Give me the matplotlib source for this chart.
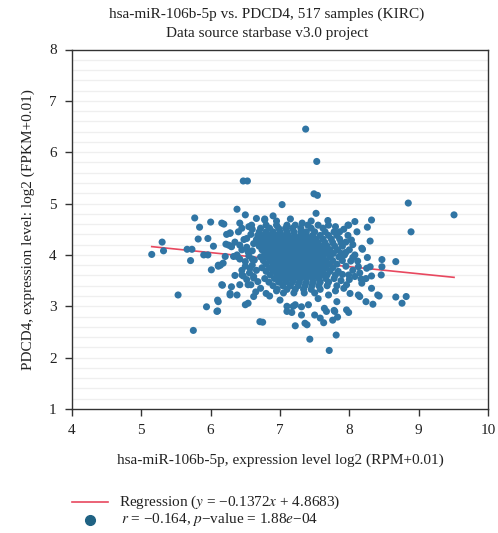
import matplotlib
matplotlib.use("Agg")
import matplotlib.pyplot as plt
import numpy as np

plt.rcParams['font.family'] = ['Liberation Serif', 'DejaVu Serif']
plt.rcParams['mathtext.fontset'] = 'stix'

# Regression coefficients (from the legend)
slope = -0.1372
intercept = 4.8683

# Outlying / individually readable points (x = miRNA log2 RPM, y = PDCD4 log2 FPKM)
outlier_x = [7.37, 7.53, 7.49, 7.54, 6.47, 6.53, 7.03, 7.52, 7.69, 6.90, 6.78, 8.08, 7.98,
             8.32, 8.26, 8.85, 9.51, 8.89, 8.30, 8.19, 8.26, 8.47, 8.67, 8.47, 8.46, 8.32,
             8.24, 8.17, 8.32, 8.41, 8.43, 8.67, 8.82, 8.76, 8.24, 8.34, 8.15, 8.25,
             5.15, 5.30, 5.32, 5.66, 5.73, 5.71, 5.82, 5.84, 5.77, 5.96, 6.00, 5.90, 5.96,
             6.01, 6.11, 6.14, 6.19, 6.04, 6.22, 6.28, 6.23, 6.38, 6.50, 6.30, 6.33, 6.38,
             6.47, 5.53, 5.75, 5.94, 6.10, 6.10, 6.17, 6.28, 6.71, 6.75, 7.22, 7.36, 7.39,
             7.43, 7.71, 7.81, 7.58, 7.63, 7.76, 7.83, 7.96, 7.99, 7.10, 7.17, 7.19, 7.64, 7.78]
outlier_y = [6.45, 5.82, 5.19, 5.16, 5.44, 5.44, 4.98, 4.81, 4.67, 4.76, 4.70, 4.65, 4.58,
             4.68, 4.54, 5.01, 4.78, 4.45, 4.27, 4.11, 3.95, 3.91, 3.87, 3.77, 3.61, 3.59,
             3.54, 3.53, 3.35, 3.22, 3.20, 3.18, 3.19, 3.06, 3.09, 3.04, 3.19, 3.74,
             4.01, 4.25, 4.08, 4.11, 4.11, 3.89, 4.31, 4.54, 4.72, 4.32, 4.64, 4.00, 4.00,
             3.71, 3.78, 3.80, 4.60, 4.17, 4.21, 4.43, 4.40, 4.89, 4.78, 4.17, 3.97, 3.97,
             3.59, 3.22, 2.53, 2.99, 3.12, 2.91, 3.41, 3.22, 2.70, 2.69, 2.62, 2.67, 2.64,
             2.36, 2.14, 2.44, 2.77, 2.68, 2.73, 2.79, 2.93, 2.88, 3.00, 2.88, 3.00, 2.96, 2.92]

# Sparse ring around the dense core
ring_x = [6.16, 6.28, 6.26, 6.21, 6.11, 6.18, 6.30, 6.42, 6.38, 6.54, 6.50, 6.57, 6.45,
          6.16, 6.30, 6.42, 6.54, 6.28, 6.38, 6.54, 6.50, 6.62, 6.11, 6.09, 6.42, 6.45,
          6.52, 6.59, 6.66, 7.99, 8.11, 8.03, 8.18, 8.13, 8.30, 7.99, 8.08, 8.18, 7.96,
          8.01, 8.13, 7.82, 7.79, 7.67, 7.10, 7.22, 7.31, 7.41, 7.50, 7.31, 6.78, 6.95,
          7.15, 7.32, 7.45, 6.85, 7.00, 7.55, 7.70, 7.80, 6.95, 6.62, 6.60, 8.05, 7.95]
ring_y = [4.62, 4.42, 4.19, 3.97, 3.80, 3.84, 4.16, 4.19, 4.00, 4.06, 3.87, 3.74, 3.61,
          3.42, 3.38, 3.42, 3.42, 3.25, 3.22, 3.06, 3.03, 3.19, 3.09, 2.90, 4.62, 4.52,
          4.32, 4.58, 4.71, 4.58, 4.45, 4.29, 4.13, 3.77, 3.77, 3.61, 3.58, 3.45, 3.42,
          3.25, 3.22, 3.09, 2.90, 2.90, 2.90, 3.03, 2.99, 3.03, 2.83, 2.83, 4.68, 4.66,
          4.70, 4.62, 4.66, 3.20, 3.12, 3.15, 3.22, 3.30, 3.30, 3.55, 3.92, 3.95, 4.05]

# Intermediate band between ring and core
band_x = [6.40, 6.48, 6.58, 6.62, 6.52, 6.60, 6.45, 6.55, 6.63, 6.42, 6.50, 6.60, 6.66,
          6.56, 6.45, 6.62, 6.52, 6.68, 6.58, 6.72, 6.65, 6.80, 6.60, 6.55, 6.35, 6.35,
          6.66, 7.92, 7.98, 8.05, 7.95, 8.00, 7.93, 8.08, 8.02, 7.95, 8.05, 7.90, 8.00,
          7.88, 7.92, 7.82, 8.12, 8.15, 7.86, 7.80, 7.70]
band_y = [4.45, 4.30, 4.40, 4.22, 4.15, 4.08, 4.10, 3.98, 3.90, 3.92, 3.78, 3.80, 3.70,
          3.65, 3.70, 3.58, 3.52, 3.48, 3.42, 3.35, 3.28, 3.25, 4.50, 4.55, 4.25, 3.60,
          4.30, 4.50, 4.38, 4.20, 4.25, 4.10, 4.00, 4.00, 3.88, 3.78, 3.70, 3.62, 3.52,
          3.50, 3.35, 3.40, 3.88, 3.65, 4.45, 4.55, 4.58]

# Dense central cluster, estimated row by row (y level -> x positions)
cluster_rows = {
    4.58: [6.80, 6.95, 7.10, 7.22, 7.40, 7.55],
    4.52: [6.72, 6.85, 6.98, 7.08, 7.18, 7.30, 7.45, 7.62],
    4.45: [6.70, 6.80, 6.90, 7.00, 7.10, 7.20, 7.30, 7.38, 7.50, 7.65, 7.78],
    4.38: [6.68, 6.76, 6.85, 6.94, 7.03, 7.12, 7.21, 7.30, 7.38, 7.47, 7.58, 7.70, 7.82],
    4.31: [6.72, 6.81, 6.90, 6.99, 7.08, 7.17, 7.26, 7.35, 7.43, 7.52, 7.62, 7.74, 7.86],
    4.24: [6.66, 6.75, 6.84, 6.93, 7.02, 7.11, 7.20, 7.29, 7.37, 7.46, 7.55, 7.65, 7.76, 7.88],
    4.17: [6.70, 6.79, 6.88, 6.97, 7.06, 7.15, 7.24, 7.33, 7.41, 7.50, 7.59, 7.68, 7.79, 7.90],
    4.10: [6.74, 6.83, 6.92, 7.01, 7.10, 7.19, 7.28, 7.37, 7.45, 7.54, 7.63, 7.72, 7.83],
    4.03: [6.78, 6.87, 6.96, 7.05, 7.14, 7.23, 7.32, 7.41, 7.49, 7.58, 7.67, 7.77, 7.88],
    3.96: [6.72, 6.82, 6.91, 7.00, 7.09, 7.18, 7.27, 7.36, 7.44, 7.53, 7.62, 7.72, 7.85],
    3.89: [6.76, 6.86, 6.95, 7.04, 7.13, 7.22, 7.31, 7.40, 7.48, 7.57, 7.66, 7.76, 7.90],
    3.82: [6.80, 6.90, 6.99, 7.08, 7.17, 7.26, 7.35, 7.44, 7.52, 7.61, 7.71, 7.82],
    3.75: [6.74, 6.85, 6.94, 7.03, 7.12, 7.21, 7.30, 7.39, 7.48, 7.57, 7.66, 7.76],
    3.68: [6.80, 6.90, 6.99, 7.08, 7.17, 7.26, 7.35, 7.44, 7.53, 7.62, 7.72, 7.84],
    3.61: [6.86, 6.96, 7.05, 7.14, 7.23, 7.32, 7.41, 7.50, 7.59, 7.68, 7.80],
    3.54: [6.78, 6.92, 7.02, 7.11, 7.20, 7.29, 7.38, 7.47, 7.56, 7.66, 7.78],
    3.47: [6.84, 6.98, 7.08, 7.18, 7.28, 7.38, 7.48, 7.58, 7.70],
    3.40: [6.90, 7.04, 7.15, 7.26, 7.36, 7.46, 7.56, 7.68],
    3.33: [6.96, 7.10, 7.22, 7.34, 7.45, 7.58],
    3.26: [7.05, 7.20, 7.35, 7.50],
}

title_lines = ["hsa-miR-106b-5p vs. PDCD4, 517 samples (KIRC)", "Data source starbase v3.0 project"]
x_label = "hsa-miR-106b-5p, expression level log2 (RPM+0.01)"
y_label = "PDCD4, expression level: log2 (FPKM+0.01)"
reg_label = r"Regression ($y$ = −0.1372$x$ + 4.8683)"
stat_label = r"$r$ = −0.164, $p$−value = 1.88$e$−04"

xs = list(outlier_x) + list(ring_x) + list(band_x)
ys = list(outlier_y) + list(ring_y) + list(band_y)
for yv, row in cluster_rows.items():
    xs.extend(row)
    ys.extend([yv] * len(row))
xs = np.array(xs)
ys = np.array(ys)

point_color = '#3075a4'
line_color = '#e8485f'
axis_color = '#333333'

fig = plt.figure(figsize=(4.98, 5.33), dpi=100)
ax = fig.add_axes([72 / 498, 1 - 409 / 533, (488 - 72) / 498, (409 - 49.5) / 533])

# faint horizontal grid every 0.2
for gy in np.arange(1.2, 8.0, 0.2):
    ax.axhline(gy, color='#efefef', lw=0.9, zorder=0)

lx = np.array([xs.min(), xs.max()])
ax.plot(lx, slope * lx + intercept, color=line_color, lw=1.2, zorder=1)
ax.scatter(xs, ys, s=26, color=point_color, edgecolors='none', zorder=2)

ax.set_xlim(4, 10)
ax.set_ylim(1, 8)
ax.set_xticks(range(4, 11))
ax.set_yticks(range(1, 9))
for sp in ax.spines.values():
    sp.set_color(axis_color)
    sp.set_linewidth(1.0)
ax.tick_params(axis='both', direction='out', length=5, width=1, color=axis_color,
               labelsize=11, labelcolor='#222222', pad=6)
ax.set_xlabel(x_label, fontsize=11, color='#222222', labelpad=12)
ax.set_ylabel(y_label, fontsize=11, color='#222222', labelpad=10)

fig.text(267 / 498, 1 - 14 / 533, title_lines[0], ha='center', va='center', fontsize=11, color='#222222')
fig.text(267 / 498, 1 - 33 / 533, title_lines[1], ha='center', va='center', fontsize=11, color='#222222')

# Legend (drawn in figure coordinates)
fig.add_artist(plt.Line2D([72 / 498, 108 / 498], [1 - 502 / 533, 1 - 502 / 533],
                          color=line_color, lw=1.2))
fig.text(119 / 498, 1 - 502 / 533, reg_label, ha='left', va='center', fontsize=11, color='#222222')
fig.add_artist(plt.Line2D([90 / 498], [1 - 520 / 533], marker='o', markersize=7,
                          color='#1f6283', lw=0))
fig.text(121 / 498, 1 - 520 / 533, stat_label, ha='left', va='center', fontsize=11, color='#222222')

fig.savefig('out.png', dpi=100)
